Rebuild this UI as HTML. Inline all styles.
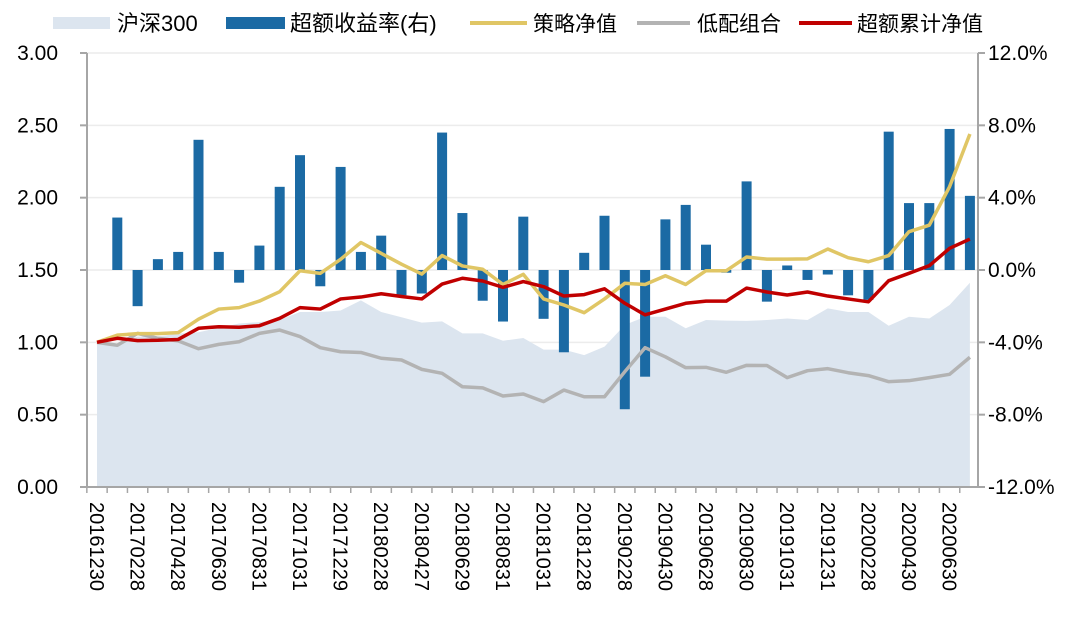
<!DOCTYPE html>
<html><head><meta charset="utf-8">
<style>
html,body{margin:0;padding:0;background:#fff;}
svg{display:block;font-family:"Liberation Sans","Noto Sans CJK SC",sans-serif;}
</style></head>
<body>
<svg id="chart" width="1086" height="621" viewBox="0 0 1086 621" xmlns="http://www.w3.org/2000/svg">
<g id="grid"></g>
<g id="area"></g>
<g id="bars"></g>
<g id="lines"></g>
<g id="axes"></g>
<g id="legend">
  <rect x="53" y="17" width="57" height="12" fill="#dce5ef"/>
  <text x="117" y="31" font-size="22" fill="#000">沪深300</text>
  <rect x="226" y="17" width="59" height="12" fill="#1b6aa4"/>
  <text x="290" y="31" font-size="22" fill="#000">超额收益率(右)</text>
  <line x1="470" y1="23" x2="527" y2="23" stroke="#e0c665" stroke-width="4"/>
  <text x="533" y="31" font-size="21" fill="#000">策略净值</text>
  <line x1="637" y1="23" x2="690" y2="23" stroke="#b3b3b3" stroke-width="4"/>
  <text x="697" y="31" font-size="21" fill="#000">低配组合</text>
  <line x1="799" y1="23" x2="852" y2="23" stroke="#c00000" stroke-width="4"/>
  <text x="857" y="31" font-size="21" fill="#000">超额累计净值</text>
</g>
</svg>
<script>
const dates = ["20161230","20170126","20170228","20170331","20170428","20170531","20170630","20170731","20170831","20170929","20171031","20171130","20171229","20180131","20180228","20180330","20180427","20180531","20180629","20180731","20180831","20180928","20181031","20181130","20181228","20190131","20190228","20190329","20190430","20190531","20190628","20190731","20190830","20190930","20191031","20191129","20191231","20200123","20200228","20200331","20200430","20200529","20200630","20200731"];
const hs300 = [1.0,0.99,1.04,1.04,1.06,1.07,1.10,1.13,1.14,1.155,1.21,1.21,1.22,1.29,1.21,1.173,1.136,1.145,1.062,1.062,1.011,1.03,0.95,0.95,0.912,0.97,1.12,1.177,1.177,1.097,1.154,1.15,1.148,1.154,1.165,1.154,1.235,1.21,1.21,1.115,1.177,1.165,1.258,1.412];
const excess = [null,2.9,-2.0,0.6,1.0,7.2,1.0,-0.7,1.35,4.6,6.35,-0.9,5.7,1.0,1.9,-1.4,-1.3,7.6,3.15,-1.7,-2.85,2.95,-2.7,-4.55,0.95,3.0,-7.7,-5.9,2.8,3.6,1.4,-0.15,4.9,-1.75,0.25,-0.55,-0.25,-1.4,-1.65,7.65,3.7,3.7,7.8,4.1];
const strategy = [1.0,1.05,1.06,1.06,1.067,1.16,1.23,1.24,1.285,1.35,1.495,1.477,1.574,1.69,1.615,1.54,1.472,1.60,1.528,1.505,1.40,1.47,1.30,1.258,1.205,1.30,1.408,1.40,1.46,1.40,1.495,1.495,1.59,1.575,1.575,1.577,1.645,1.585,1.557,1.60,1.765,1.81,2.076,2.44];
const lowAlloc = [1.0,0.98,1.062,1.028,1.01,0.956,0.986,1.004,1.062,1.085,1.04,0.963,0.935,0.93,0.89,0.878,0.813,0.786,0.693,0.685,0.629,0.643,0.59,0.67,0.624,0.624,0.797,0.963,0.90,0.825,0.827,0.793,0.841,0.84,0.756,0.804,0.818,0.79,0.77,0.728,0.735,0.756,0.779,0.897];
const cumExcess = [1.0,1.028,1.012,1.014,1.02,1.097,1.108,1.104,1.115,1.166,1.24,1.23,1.30,1.313,1.336,1.317,1.30,1.403,1.443,1.424,1.38,1.42,1.385,1.32,1.33,1.37,1.27,1.19,1.23,1.27,1.285,1.285,1.375,1.348,1.327,1.348,1.32,1.30,1.28,1.426,1.477,1.53,1.65,1.714];
const leftTicks = ["0.00","0.50","1.00","1.50","2.00","2.50","3.00"];
const rightTicks = ["-12.0%","-8.0%","-4.0%","0.0%","4.0%","8.0%","12.0%"];

const NS="http://www.w3.org/2000/svg";
const X0=97, DX=20.3, Y0=487, YTOP=53, AX_L=87, AX_R=978;
function xs(i){return X0+DX*i;}
function yl(v){return Y0-(Y0-YTOP)*v/3;}
function yr(p){return Y0-(Y0-YTOP)*(p+12)/24;}
function mk(tag,attrs,parent){const e=document.createElementNS(NS,tag);for(const k in attrs)e.setAttribute(k,attrs[k]);parent.appendChild(e);return e;}

const grid=document.getElementById('grid');
leftTicks.forEach((t,i)=>{
  const v=parseFloat(t);
  if(i>0){const g=mk('line',{x1:AX_L,x2:AX_R,y1:yl(v),y2:yl(v),stroke:'#ececec','stroke-width':1.5},grid);
  
  }
});

const area=document.getElementById('area');
let d='M'+xs(0)+','+Y0;
hs300.forEach((v,i)=>{d+=' L'+xs(i)+','+yl(v);});
d+=' L'+xs(hs300.length-1)+','+Y0+' Z';
const ap=mk('path',{d:d,fill:'#dce5ef'},area);



const bars=document.getElementById('bars');
excess.forEach((p,i)=>{
  if(p===null)return;
  const y0=yr(0), y1=yr(p);
  const b=mk('rect',{x:xs(i)-5,y:Math.min(y0,y1),width:10,height:Math.abs(y1-y0),fill:'#1b6aa4'},bars);
  
  
});

const lines=document.getElementById('lines');
function drawLine(arr,color,name){
  const pts=arr.map((v,i)=>xs(i)+','+yl(v)).join(' ');
  const l=mk('polyline',{points:pts,fill:'none',stroke:color,'stroke-width':3.5,'stroke-linejoin':'round'},lines);
  
  
}
drawLine(lowAlloc,'#b3b3b3','low-allocation-line');
drawLine(strategy,'#e0c665','strategy-line');
drawLine(cumExcess,'#c00000','cum-excess-line');

const axes=document.getElementById('axes');
const la=mk('line',{x1:AX_L,x2:AX_L,y1:YTOP,y2:Y0,stroke:'#a6a6a6','stroke-width':2},axes);


const ra=mk('line',{x1:AX_R,x2:AX_R,y1:YTOP,y2:Y0,stroke:'#a6a6a6','stroke-width':2},axes);


const xa=mk('line',{x1:AX_L,x2:AX_R,y1:Y0,y2:Y0,stroke:'#a6a6a6','stroke-width':2},axes);


leftTicks.forEach(t=>{
  const y=yl(parseFloat(t));
  const tk=mk('line',{x1:AX_L-7,x2:AX_L,y1:y,y2:y,stroke:'#a6a6a6','stroke-width':2},axes);
  
  
  const tx=mk('text',{x:58,y:y+7,'font-size':21,'text-anchor':'end',fill:'#000'},axes);
  tx.textContent=t;
  
  
});
rightTicks.forEach(t=>{
  const y=yr(parseFloat(t));
  const tk=mk('line',{x1:AX_R,x2:AX_R+7,y1:y,y2:y,stroke:'#a6a6a6','stroke-width':2},axes);
  
  
  const tx=mk('text',{x:988,y:y+7,'font-size':21,fill:'#000'},axes);
  tx.textContent=t;
  
  
});
for(let i=0;i<=dates.length;i++){
  const x=X0-DX/2+DX*i;
  if(x>AX_R)break;
  const tk=mk('line',{x1:x,x2:x,y1:Y0,y2:Y0+6,stroke:'#a6a6a6','stroke-width':1.5},axes);
  
  
}
dates.forEach((dt,i)=>{
  if(i%2!==0)return;
  const x=xs(i), y=502;
  const tx=mk('text',{x:0,y:0,'font-size':20,fill:'#000',transform:'translate('+(x-7)+','+y+') rotate(90)'},axes);
  tx.textContent=dt;
  
  
});
</script>
</body></html>
